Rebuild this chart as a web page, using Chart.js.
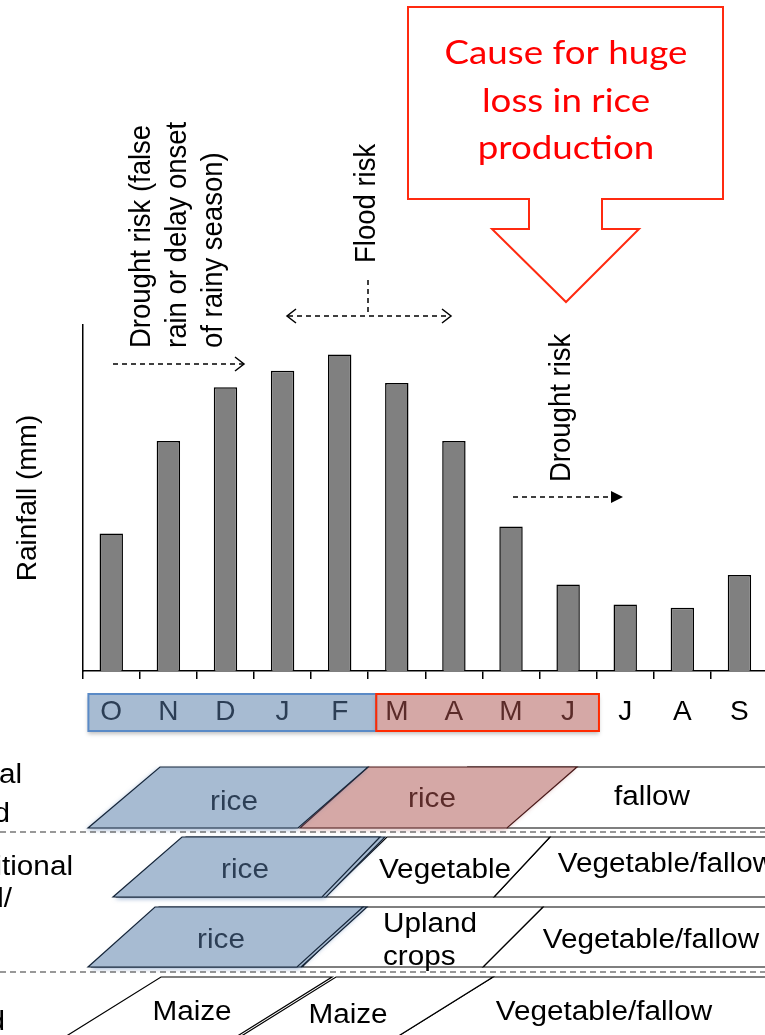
<!DOCTYPE html>
<html>
<head>
<meta charset="utf-8">
<script src="https://cdn.jsdelivr.net/npm/chart.js@4.4.0/dist/chart.umd.min.js"></script>
<style>
  html, body { margin: 0; padding: 0; background: #fff; overflow: hidden; }
  #wrap { width: 765px; height: 1035px; overflow: hidden; position: relative; }
  canvas { position: absolute; left: 0; top: 0; }
</style>
</head>
<body>
<div id="wrap"><canvas id="chartCanvas" width="780" height="1035"></canvas></div>
<script>
// monthly rainfall, Oct -> Sep (no numeric axis in the source, values estimated in mm)
const months = ['O', 'N', 'D', 'J', 'F', 'M', 'A', 'M', 'J', 'J', 'A', 'S'];
const rainfall = [159, 266, 328, 347, 366, 333, 266, 167, 100, 77, 73, 111];
const yMax = 400;
const yTitle = 'Rainfall (mm)';

const calloutLines = ['Cause for huge', 'loss in rice', 'production'];
const earlyDroughtLines = ['Drought risk (false', 'rain or delay onset', 'of rainy season)'];
const floodLabel = 'Flood risk';
const lateDroughtLabel = 'Drought risk';

const SANS = "'Liberation Sans', Arial, Helvetica, sans-serif";
const SX = 1.1; // source picture is stretched a little sideways

function txt(ctx, s, x, y, size, color, align, rot, family) {
    ctx.save();
    ctx.translate(x, y);
    ctx.scale(SX, 1);
    if (rot) ctx.rotate(rot);
    ctx.font = size + 'px ' + (family || SANS);
    ctx.fillStyle = color;
    ctx.textAlign = align || 'center';
    ctx.textBaseline = 'alphabetic';
    ctx.fillText(s, 0, 0);
    ctx.restore();
}

function poly(ctx, pts, fill, stroke, lw, shadow) {
    ctx.save();
    ctx.beginPath();
    ctx.moveTo(pts[0][0], pts[0][1]);
    for (let i = 1; i < pts.length; i++) ctx.lineTo(pts[i][0], pts[i][1]);
    ctx.closePath();
    if (shadow) {
        ctx.shadowColor = shadow;
        ctx.shadowBlur = 4;
        ctx.shadowOffsetX = -2;
        ctx.shadowOffsetY = 2;
    }
    if (fill) { ctx.fillStyle = fill; ctx.fill(); }
    ctx.shadowColor = 'transparent';
    if (stroke) { ctx.strokeStyle = stroke; ctx.lineWidth = lw || 1.2; ctx.stroke(); }
    ctx.restore();
}

function dashed(ctx, x1, y1, x2, y2) {
    ctx.save();
    ctx.setLineDash([5, 4]);
    ctx.strokeStyle = '#000';
    ctx.lineWidth = 1.5;
    ctx.beginPath();
    ctx.moveTo(x1, y1);
    ctx.lineTo(x2, y2);
    ctx.stroke();
    ctx.restore();
}

function chevron(ctx, x, y, dir) {
    ctx.save();
    ctx.strokeStyle = '#000';
    ctx.lineWidth = 1.5;
    ctx.beginPath();
    ctx.moveTo(x - dir * 9, y - 7);
    ctx.lineTo(x, y);
    ctx.lineTo(x - dir * 9, y + 7);
    ctx.stroke();
    ctx.restore();
}

const BLUE_FILL = '#a7bbd2';
const BLUE_TEXT = '#2c3e55';
const RED_FILL = '#d5a8a6';
const RED_TEXT = '#5b2b29';

const monthBoxes = {
    id: 'monthBoxes',
    beforeDraw(chart) {
        const ctx = chart.ctx;
        const x = chart.scales.x;
        const step = x.getPixelForValue(1) - x.getPixelForValue(0);
        const top = chart.chartArea.bottom + 23;
        const h = 37;
        const bl = x.getPixelForValue(0) - 0.4 * step;
        const br = x.getPixelForValue(4) + 0.64 * step;
        const rr = x.getPixelForValue(8) + 0.54 * step;
        ctx.save();
        ctx.shadowColor = 'rgba(0,0,0,0.25)';
        ctx.shadowBlur = 4;
        ctx.shadowOffsetY = 3;
        ctx.fillStyle = BLUE_FILL;
        ctx.fillRect(bl, top, br - bl, h);
        ctx.fillStyle = RED_FILL;
        ctx.fillRect(br, top, rr - br, h);
        ctx.shadowColor = 'transparent';
        ctx.lineWidth = 2;
        ctx.strokeStyle = '#5a8ac6';
        ctx.strokeRect(bl, top, br - bl, h);
        ctx.strokeStyle = '#ff2a00';
        ctx.strokeRect(br, top, rr - br, h);
        ctx.restore();
    }
};

const annotations = {
    id: 'annotations',
    afterDraw(chart) {
        const ctx = chart.ctx;

        // callout box with arrow
        poly(ctx, [[408, 7], [723, 7], [723, 199], [602, 199], [602, 229], [639, 229], [566, 302],
                   [492, 229], [529, 229], [529, 199], [408, 199]], '#fff', '#ff2a10', 2);
        ctx.save();
        ctx.font = '36px Lato, sans-serif';
        const w0 = ctx.measureText(calloutLines[0]).width;
        ctx.restore();
        const cSize = 36 * (243 / SX) / w0;
        [64, 112, 159].forEach((by, i) => txt(ctx, calloutLines[i], 566, by, cSize, '#ff0000', 'center', 0, 'Lato, sans-serif'));

        // rotated risk labels
        const up = -Math.PI / 2;
        [149.5, 186, 222].forEach((bx, i) => txt(ctx, earlyDroughtLines[i], bx, 348, 27.5, '#000', 'left', up));
        txt(ctx, floodLabel, 375, 263, 27.5, '#000', 'left', up);
        txt(ctx, lateDroughtLabel, 570, 482, 27.5, '#000', 'left', up);

        // arrows
        dashed(ctx, 113, 364, 243, 364);
        chevron(ctx, 244, 364, 1);
        dashed(ctx, 288, 316, 450, 316);
        chevron(ctx, 287, 316, -1);
        chevron(ctx, 451, 316, 1);
        dashed(ctx, 368, 280, 368, 316);
        dashed(ctx, 513, 497, 612, 497);
        poly(ctx, [[611, 491], [623, 497], [611, 503]], '#000', null);

        // cropping calendar rows
        const blueShadow = 'rgba(80,120,175,0.55)';
        // row 1
        poly(ctx, [[468, 767], [830, 767], [830, 828], [507, 828]], '#fff', '#000');
        poly(ctx, [[368, 767], [577, 767], [507, 828], [300, 828]], RED_FILL, '#4a1a1a', 1.2, 'rgba(170,90,90,0.4)');
        poly(ctx, [[160, 767], [368, 767], [298, 828], [88, 828]], BLUE_FILL, '#16263a', 1.2, blueShadow);
        txt(ctx, 'rice', 234, 810, 27, BLUE_TEXT);
        txt(ctx, 'rice', 432, 807, 27, RED_TEXT);
        txt(ctx, 'fallow', 652, 805, 27, '#000');
        // row 2
        poly(ctx, [[550, 837], [830, 837], [830, 897], [494, 897]], '#fff', '#000');
        poly(ctx, [[387, 837], [550, 837], [494, 897], [325, 897]], '#fff', '#000');
        poly(ctx, [[186, 837], [385, 837], [326, 897], [117, 897]], BLUE_FILL, '#16263a', 1.2, blueShadow);
        poly(ctx, [[182, 837], [380, 837], [322, 897], [113, 897]], BLUE_FILL, '#16263a', 1.2);
        txt(ctx, 'rice', 245, 878, 27, BLUE_TEXT);
        txt(ctx, 'Vegetable', 445, 878, 27, '#000');
        txt(ctx, 'Vegetable/fallow', 666, 872, 27, '#000');
        // row 3
        poly(ctx, [[543, 907], [830, 907], [830, 967], [483, 967]], '#fff', '#000');
        poly(ctx, [[363, 907], [543, 907], [483, 967], [302, 967]], '#fff', '#000');
        poly(ctx, [[159, 907], [367, 907], [301, 967], [92, 967]], BLUE_FILL, '#16263a', 1.2, blueShadow);
        poly(ctx, [[155, 907], [363, 907], [297, 967], [88, 967]], BLUE_FILL, '#16263a', 1.2);
        txt(ctx, 'rice', 221, 948, 27, BLUE_TEXT);
        txt(ctx, 'Upland', 383, 932, 27, '#000', 'left');
        txt(ctx, 'crops', 383, 965, 27, '#000', 'left');
        txt(ctx, 'Vegetable/fallow', 651, 948, 27, '#000');
        // row 4
        poly(ctx, [[493, 977], [830, 977], [830, 1045], [384, 1045]], '#fff', '#000');
        poly(ctx, [[336, 977], [493, 977], [384, 1045], [227, 1045]], '#fff', '#000');
        poly(ctx, [[161, 977], [332, 977], [223, 1045], [52, 1045]], '#fff', '#000');
        txt(ctx, 'Maize', 192, 1020, 27, '#000');
        txt(ctx, 'Maize', 348, 1023, 27, '#000');
        txt(ctx, 'Vegetable/fallow', 604, 1020, 27, '#000');

        // separators between land types
        ctx.save();
        ctx.setLineDash([6, 4]);
        ctx.strokeStyle = '#333';
        ctx.lineWidth = 1.2;
        [832, 972].forEach(y => {
            ctx.beginPath();
            ctx.moveTo(0, y);
            ctx.lineTo(780, y);
            ctx.stroke();
        });
        ctx.restore();

        // land type labels, cut by the left edge
        txt(ctx, 'Normal', 22, 783, 27, '#000', 'right');
        txt(ctx, 'lowland', 10, 822, 27, '#000', 'right');
        txt(ctx, 'Transitional', 73, 875, 27, '#000', 'right');
        txt(ctx, 'upland/', 12, 907, 27, '#000', 'right');
        txt(ctx, 'Upland', 5, 1030, 27, '#000', 'right');
    }
};

const ctx = document.getElementById('chartCanvas').getContext('2d');
const chart = new Chart(ctx, {
    type: 'bar',
    data: {
        labels: months,
        datasets: [{
            data: rainfall,
            backgroundColor: '#808080',
            borderColor: '#000',
            borderWidth: 1.5,
            barPercentage: 0.41,
            categoryPercentage: 1.0
        }]
    },
    options: {
        responsive: false,
        animation: false,
        devicePixelRatio: 1,
        layout: { padding: { top: 325, right: 12, bottom: 290.4, left: 0 } },
        plugins: { legend: { display: false }, tooltip: { enabled: false } },
        scales: {
            x: {
                grid: { display: true, drawOnChartArea: false, drawTicks: true, tickLength: 8, color: '#000', lineWidth: 1.5 },
                border: { display: true, color: '#000', width: 1.5 },
                ticks: {
                    padding: 16,
                    font: { family: SANS, size: 28 },
                    color: c => c.index < 5 ? BLUE_TEXT : (c.index < 9 ? RED_TEXT : '#000')
                }
            },
            y: {
                min: 0,
                max: yMax,
                grid: { display: false, drawTicks: false },
                border: { display: true, color: '#000', width: 1.5 },
                ticks: { display: false },
                title: {
                    display: true,
                    text: yTitle,
                    font: { family: SANS, size: 28 },
                    color: '#000',
                    padding: { top: 11.2, bottom: 37.9 }
                }
            }
        }
    },
    plugins: [monthBoxes, annotations]
});
</script>
</body>
</html>
